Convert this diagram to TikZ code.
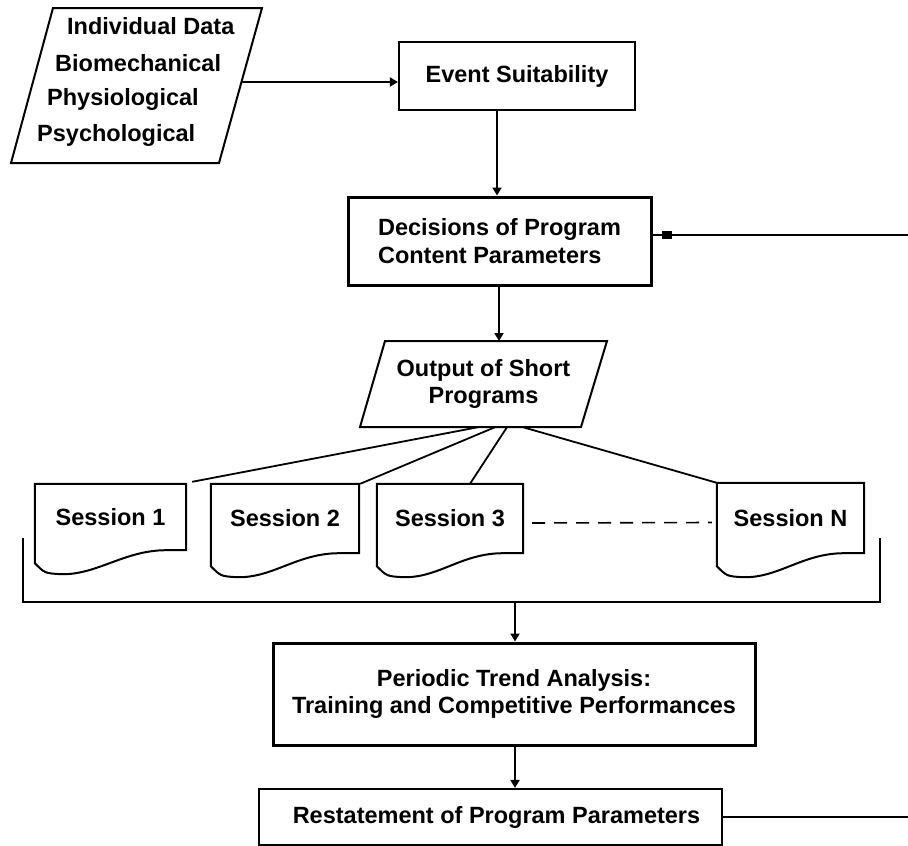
\documentclass[tikz,border=0pt]{standalone}
\usepackage{fontspec}
\setmainfont{Liberation Sans}
\usetikzlibrary{arrows.meta,calc}
\begin{document}
\begin{tikzpicture}[x=1pt,y=-1pt,
  every node/.style={font=\fontsize{23.5}{27.5}\selectfont\bfseries, inner sep=0pt},
  box/.style={draw, line width=2.2pt},
  thickbox/.style={draw, line width=3pt},
  shapeline/.style={line width=2pt, line join=miter},
  conn/.style={line width=1.8pt},
  arr/.style={conn, -{Triangle[length=8pt,width=9pt]}},
  dashline/.style={line width=1.6pt, dash pattern=on 13pt off 9pt},
  sess/.style={minimum width=#1}
]
\useasboundingbox (0,0) rectangle (908,846);

% Individual data parallelogram
\draw[shapeline] (53,8) -- (262,8) -- (219,163) -- (11,163) -- cycle;
\node[anchor=west] (d1) at (67,26) {Individual Data};
\node[anchor=west] (d2) at (55,63) {Biomechanical};
\node[anchor=west] (d3) at (47,99) {Physiological};
\node[anchor=west] (d4) at (37,135) {Psychological};
\coordinate (dataR) at (241.5,82);

% Event suitability
\node[box, minimum width=236pt, minimum height=68pt] (event) at (517,76) {Event Suitability};
\draw[arr] (dataR) -- (dataR -| event.west);

% Decisions
\node[thickbox, minimum width=303pt, minimum height=88pt, align=left] (dec) at (499.5,241) {Decisions of Program\\Content Parameters};
\draw[arr] (dec.north -| 497,0) ++(0,-86) -- (dec.north -| 497,0);

% Output of short programs
\node[align=center, minimum width=200pt, minimum height=86pt] (out) at (483.5,384) {Output of Short\\Programs};
\draw[shapeline] (385,341) -- (607,341) -- (581,427) -- (360,427) -- cycle;
\draw[arr] (dec.south -| 499,0) -- (499,341);

% Sessions
\node[sess=151pt, minimum height=66pt] (s1) at (110.5,517) {Session 1};
\node[sess=148pt, minimum height=69pt] (s2) at (285,518.5) {Session 2};
\node[sess=146pt, minimum height=69pt] (s3) at (450,518.5) {Session 3};
\node[sess=147pt, minimum height=70pt] (sN) at (790.5,518) {Session N};
\foreach \s in {s1,s2,s3,sN}{
  \draw[shapeline] (\s.north west) -- (\s.north east) -- (\s.south east)
    -- ($(\s.south east)+(-20,0)$)
    .. controls ($(\s.south east)+(-62,0)$) and ($(\s.south west)+(62,25)$) .. ($(\s.south west)+(26,24)$)
    .. controls ($(\s.south west)+(10,23)$) .. ($(\s.south west)+(0,13)$) -- cycle;
}

% fan lines
\draw[conn] ([xshift=-5.5pt]out.south) -- ([xshift=6pt,yshift=2pt]s1.north east);
\draw[conn] ([xshift=11.5pt]out.south) -- ([xshift=1pt]s2.north east);
\draw[conn] ([xshift=23.5pt]out.south) -- ([xshift=20pt]s3.north);
\draw[conn] ([xshift=39.5pt]out.south) -- (sN.north west);
\draw[dashline] ([xshift=9pt,yshift=-4.5pt]s3.east) -- ([xshift=-5pt,yshift=-4.5pt]sN.west);

% bracket
\coordinate (bl) at (23,538);
\coordinate (br) at (880,538);
\draw[conn] (bl) -- (23,602) -- (880,602) -- (br);
\coordinate (bstem) at (515,602);

% Periodic trend analysis
\node[thickbox, minimum width=482pt, minimum height=102pt, align=center] (per) at (514,694) {Periodic Trend Analysis:\\Training and Competitive Performances};
\draw[arr] (bstem) -- (bstem |- per.north);

% Restatement
\node[box, minimum width=463pt, minimum height=56pt] (rest) at (490.5,817) {\hspace{12pt}Restatement of Program Parameters};
\draw[arr, line width=2.4pt] (per.south -| 515,0) -- (rest.north -| 515,0);

% feedback lines to the right edge
\coordinate (fb1) at (908,235);
\coordinate (fb2) at (908,817);
\draw[conn] (fb1) -- (fb1 -| dec.east);
\fill (667,235) +(-5,-4) rectangle +(5,4);
\draw[conn] (rest.east) -- (fb2);
\end{tikzpicture}
\end{document}
